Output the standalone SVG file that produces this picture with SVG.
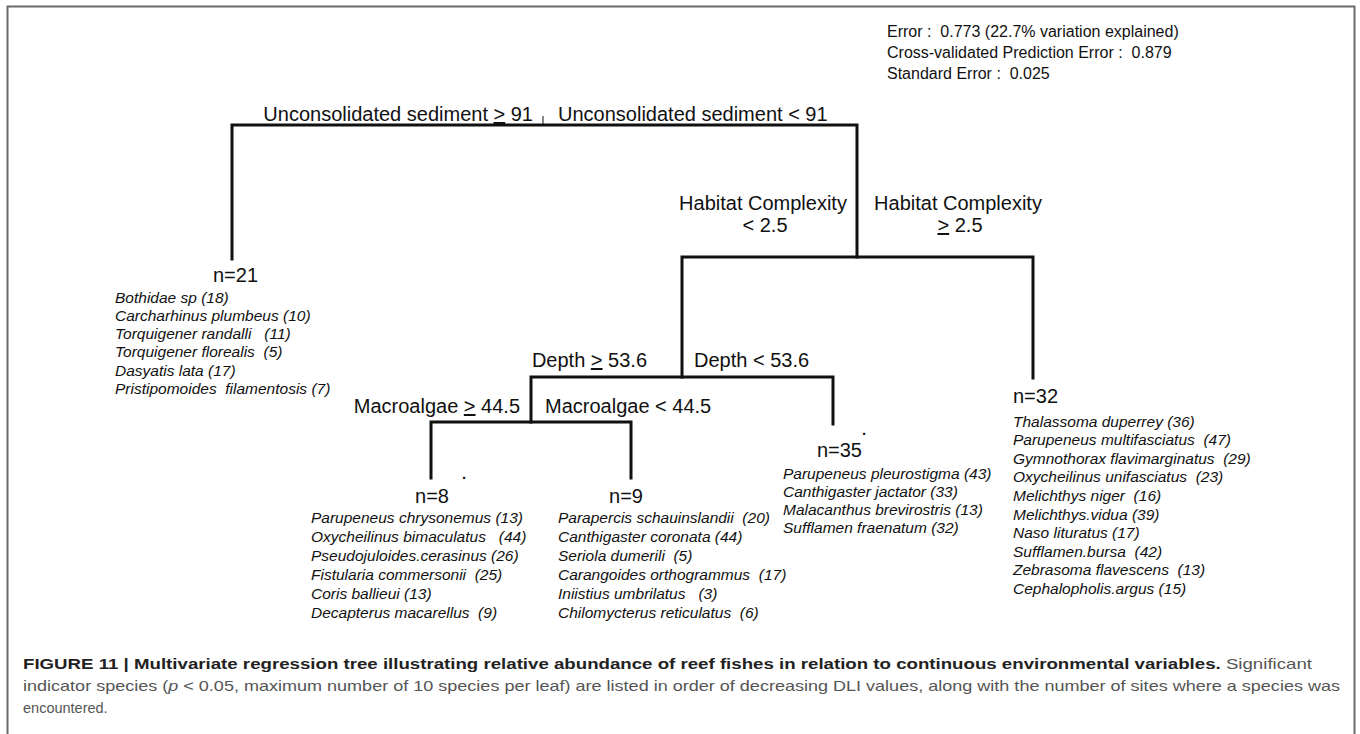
<svg xmlns="http://www.w3.org/2000/svg" width="1360" height="734" viewBox="0 0 1360 734">
<style>
text{font-family:"Liberation Sans",Arial,sans-serif;fill:#111}
.lab{font-size:20px}
.n{font-size:20px}
.sp{font-size:15.5px;font-style:italic}
.stat{font-size:16px}
.cap{font-size:14.5px;fill:#555}
.capb{font-weight:bold;fill:#222}
.dot{font-size:15px;font-weight:bold}
.edge{stroke:#111;stroke-width:3;fill:none;stroke-linecap:square}
.u{text-decoration:underline}
</style>
<rect x="7.5" y="6.5" width="1347" height="740" fill="none" stroke="#6a6a6a" stroke-width="2"/>
<g id="stats">
<text class="stat" x="887" y="37" xml:space="preserve">Error :  0.773 (22.7% variation explained)</text>
<text class="stat" x="887" y="58" xml:space="preserve">Cross-validated Prediction Error :  0.879</text>
<text class="stat" x="887" y="79" xml:space="preserve">Standard Error :  0.025</text>
</g>
<g id="connectors">
<line x1="543" y1="116" x2="543" y2="125" stroke="#111" stroke-width="1"/>
<polyline class="edge" points="232,259 232,125 857,125 857,257"/>
<polyline class="edge" points="682,377 682,257 1033,257 1033,378"/>
<polyline class="edge" points="531,422 531,377 833,377 833,424"/>
<polyline class="edge" points="431,478 431,422 631,422 631,478"/>
</g>
<g id="split-root">
<text class="lab" x="533" y="121" text-anchor="end">Unconsolidated sediment <tspan class="u">&gt;</tspan> 91</text>
<text class="lab" x="558" y="121">Unconsolidated sediment &lt; 91</text>
</g>
<g id="split-habitat">
<text class="lab" x="763" y="210" text-anchor="middle">Habitat Complexity</text>
<text class="lab" x="765" y="232" text-anchor="middle">&lt; 2.5</text>
<text class="lab" x="958" y="210" text-anchor="middle">Habitat Complexity</text>
<text class="lab" x="960" y="232" text-anchor="middle"><tspan class="u">&gt;</tspan> 2.5</text>
</g>
<g id="split-depth">
<text class="lab" x="647" y="367" text-anchor="end">Depth <tspan class="u">&gt;</tspan> 53.6</text>
<text class="lab" x="694" y="367">Depth &lt; 53.6</text>
</g>
<g id="split-macroalgae">
<text class="lab" x="520" y="413" text-anchor="end">Macroalgae <tspan class="u">&gt;</tspan> 44.5</text>
<text class="lab" x="545" y="413">Macroalgae &lt; 44.5</text>
</g>
<g id="leaf-n21">
<text class="n" x="213" y="282">n=21</text>
<text class="sp" x="115" y="302.5">Bothidae sp (18)</text>
<text class="sp" x="115" y="320.8">Carcharhinus plumbeus (10)</text>
<text class="sp" x="115" y="339.1" xml:space="preserve">Torquigener randalli   (11)</text>
<text class="sp" x="115" y="357.4" xml:space="preserve">Torquigener florealis  (5)</text>
<text class="sp" x="115" y="375.7">Dasyatis lata (17)</text>
<text class="sp" x="115" y="394" xml:space="preserve">Pristipomoides  filamentosis (7)</text>
</g>
<g id="leaf-n8">
<text class="n" x="432" y="503" text-anchor="middle">n=8</text>
<text class="dot" x="462" y="479">.</text>
<text class="sp" x="311" y="523">Parupeneus chrysonemus (13)</text>
<text class="sp" x="311" y="542" xml:space="preserve">Oxycheilinus bimaculatus   (44)</text>
<text class="sp" x="311" y="561">Pseudojuloides.cerasinus (26)</text>
<text class="sp" x="311" y="580" xml:space="preserve">Fistularia commersonii  (25)</text>
<text class="sp" x="311" y="599">Coris ballieui (13)</text>
<text class="sp" x="311" y="618" xml:space="preserve">Decapterus macarellus  (9)</text>
</g>
<g id="leaf-n9">
<text class="n" x="626" y="503" text-anchor="middle">n=9</text>
<text class="sp" x="558" y="523" xml:space="preserve">Parapercis schauinslandii  (20)</text>
<text class="sp" x="558" y="542">Canthigaster coronata (44)</text>
<text class="sp" x="558" y="561" xml:space="preserve">Seriola dumerili  (5)</text>
<text class="sp" x="558" y="580" xml:space="preserve">Carangoides orthogrammus  (17)</text>
<text class="sp" x="558" y="599" xml:space="preserve">Iniistius umbrilatus   (3)</text>
<text class="sp" x="558" y="618" xml:space="preserve">Chilomycterus reticulatus  (6)</text>
</g>
<g id="leaf-n35">
<text class="n" x="862" y="457" text-anchor="end">n=35</text>
<text class="dot" x="862" y="435">.</text>
<text class="sp" x="783" y="479">Parupeneus pleurostigma (43)</text>
<text class="sp" x="783" y="497">Canthigaster jactator (33)</text>
<text class="sp" x="783" y="515">Malacanthus brevirostris (13)</text>
<text class="sp" x="783" y="533">Sufflamen fraenatum (32)</text>
</g>
<g id="leaf-n32">
<text class="n" x="1013" y="403">n=32</text>
<text class="sp" x="1013" y="426.5">Thalassoma duperrey (36)</text>
<text class="sp" x="1013" y="445.1" xml:space="preserve">Parupeneus multifasciatus  (47)</text>
<text class="sp" x="1013" y="463.7" xml:space="preserve">Gymnothorax flavimarginatus  (29)</text>
<text class="sp" x="1013" y="482.3" xml:space="preserve">Oxycheilinus unifasciatus  (23)</text>
<text class="sp" x="1013" y="500.9" xml:space="preserve">Melichthys niger  (16)</text>
<text class="sp" x="1013" y="519.5">Melichthys.vidua (39)</text>
<text class="sp" x="1013" y="538.1">Naso lituratus (17)</text>
<text class="sp" x="1013" y="556.7" xml:space="preserve">Sufflamen.bursa  (42)</text>
<text class="sp" x="1013" y="575.3" xml:space="preserve">Zebrasoma flavescens  (13)</text>
<text class="sp" x="1013" y="593.9">Cephalopholis.argus (15)</text>
</g>
<g id="caption">
<text class="cap" x="23" y="669" textLength="1289" lengthAdjust="spacingAndGlyphs"><tspan class="capb">FIGURE 11 | Multivariate regression tree illustrating relative abundance of reef fishes in relation to continuous environmental variables.</tspan> Significant</text>
<text class="cap" x="23" y="691" textLength="1317" lengthAdjust="spacingAndGlyphs">indicator species (<tspan font-style="italic">p</tspan> &lt; 0.05, maximum number of 10 species per leaf) are listed in order of decreasing DLI values, along with the number of sites where a species was</text>
<text class="cap" x="23" y="713">encountered.</text>
</g>
</svg>
